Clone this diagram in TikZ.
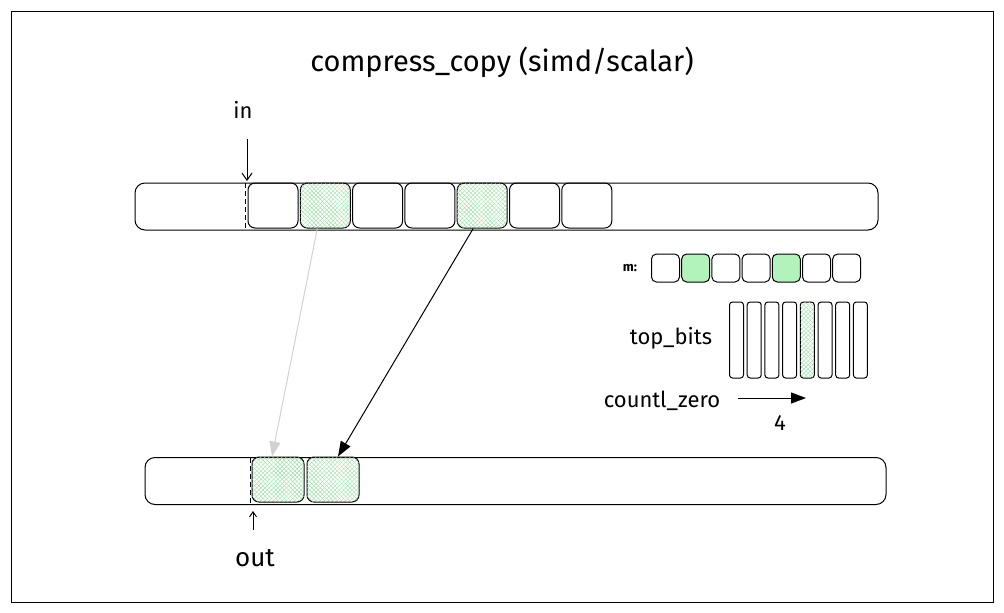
\documentclass[tikz,border=0pt]{standalone}
\usepackage{fontspec}
\setmainfont{Fira Sans}
\usetikzlibrary{arrows.meta,patterns.meta}
\definecolor{mgreen}{HTML}{B2F2BB}
\definecolor{hgreen}{HTML}{9BE0A6}

\begin{document}
\begin{tikzpicture}[x=1pt,y=-1pt,line width=1pt,
    plain/.style={},
    hatch/.style={preaction={pattern={Lines[angle=45,distance=3pt,line width=0.4pt]},pattern color=hgreen},
                  postaction={pattern={Lines[angle=-45,distance=3pt,line width=0.4pt]},pattern color=hgreen}},
    full/.style={fill=mgreen},
    cell/.style={draw, rounded corners=7pt, minimum width=50pt, minimum height=45pt, inner sep=0pt},
    bit/.style={draw, rounded corners=5pt, minimum width=28pt, minimum height=28pt, inner sep=0pt},
    slot/.style={draw, rounded corners=3pt, minimum width=14pt, minimum height=76pt, inner sep=0pt},
    buf/.style={draw, rounded corners=10pt, minimum height=47pt, inner sep=0pt},
    cut/.style={dash pattern=on 5pt off 3pt},
    lbl/.style={font=\fontsize{22}{24}\selectfont}]
    \useasboundingbox (0,0) rectangle (1004,613);
    \draw[line width=1pt] (11,11) rectangle (993,602);
    \node[font=\fontsize{29}{32}\selectfont] (title) at (502,62) {compress\_copy (simd/scalar)};
    % input buffer
    \node[buf, minimum width=743pt] (inbuf) at (506.5,206.5) {};
    \draw[cut] (245,183) -- (245,230);
    \foreach \i/\s in {1/plain,2/hatch,3/plain,4/plain,5/hatch,6/plain,7/plain}
        \node[cell,\s] (in\i) at ({273+52.3*(\i-1)},205.5) {};
    \node[lbl] (inlbl) at (243,110) {in};
    \coordinate (inptr) at (247,181);
    \draw[-{Straight Barb[length=7pt,width=10pt]}] (247,139) -- (inptr);
    % output buffer
    \node[buf, minimum width=741pt] (outbuf) at (515.5,481) {};
    \draw[cut] (250,458) -- (250,504);
    \foreach \i in {1,2}
        \node[cell,hatch,minimum width=52pt] (out\i) at ({278+55*(\i-1)},479.5) {};
    \node[lbl, font=\fontsize{26}{28}\selectfont] (outlbl) at (255,558) {out};
    \coordinate (outptr) at (253,511);
    \draw[-{Straight Barb[length=5pt,width=7pt]}] (253,530) -- (outptr);
    % mask
    \node[font=\fontsize{13}{14}\selectfont\bfseries] (mlbl) at (630,268) {m:};
    \foreach \i/\s in {1/plain,2/full,3/plain,4/plain,5/full,6/plain,7/plain}
        \node[bit,\s] (m\i) at ({665.5+30.2*(\i-1)},268) {};
    % top bits
    \node[lbl] (tbits) at (671,338) {top\_bits};
    \foreach \i/\s in {1/plain,2/plain,3/plain,4/plain,5/hatch,6/plain,7/plain,8/plain}
        \node[slot,\s] (b\i) at ({736.5+17.7*(\i-1)},340) {};
    \node[lbl] (clz) at (662,401) {countl\_zero};
    \coordinate (zfrom) at (738,398);
    \coordinate (zto) at (806,398);
    \draw[-{Triangle[length=15pt,width=11pt]}] (zfrom) -- (zto);
    \node[lbl] (four) at (780,423) {4};
    % moves
    \draw[black!18, -{Triangle[length=15pt,width=11pt]}] ([xshift=-8pt]in2.south) -- ([xshift=-6pt]out1.north);
    \draw[-{Triangle[length=15pt,width=11pt]}] ([xshift=-9pt]in5.south) -- ([xshift=5pt]out2.north);
\end{tikzpicture}
\end{document}
